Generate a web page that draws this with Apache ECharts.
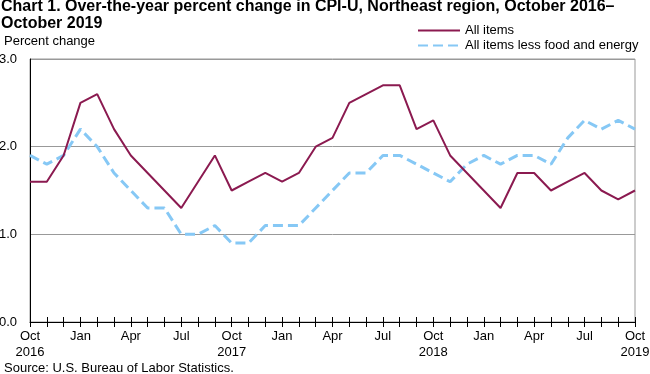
<!DOCTYPE html>
<html><head><meta charset="utf-8">
<script src="https://cdn.jsdelivr.net/npm/echarts@6/dist/echarts.min.js"></script>
<style>html,body{margin:0;padding:0;background:#fff}#c{width:650px;height:374px}</style>
</head><body><div id="c"></div>
<script>
const months = ['Oct','Nov','Dec','Jan','Feb','Mar','Apr','May','Jun','Jul','Aug','Sep'];
const categories = [];
for (let i = 0; i < 37; i++) {
  const m = months[i % 12];
  const y = 2016 + Math.floor((i + 9) / 12);
  categories.push(m + ' ' + y);
}
const allItems = [1.6,1.6,1.9,2.5,2.6,2.2,1.9,1.7,1.5,1.3,1.6,1.9,1.5,1.6,1.7,1.6,1.7,2.0,2.1,2.5,2.6,2.7,2.7,2.2,2.3,1.9,1.7,1.5,1.3,1.7,1.7,1.5,1.6,1.7,1.5,1.4,1.5];
const core = [1.9,1.8,1.9,2.2,2.0,1.7,1.5,1.3,1.3,1.0,1.0,1.1,0.9,0.9,1.1,1.1,1.1,1.3,1.5,1.7,1.7,1.9,1.9,1.8,1.7,1.6,1.8,1.9,1.8,1.9,1.9,1.8,2.1,2.3,2.2,2.3,2.2];
const yTicks = [0, 1, 2, 3];
const FONT = '"Liberation Sans", Arial, sans-serif';

const chart = echarts.init(document.getElementById('c'), null, {renderer: 'canvas'});
chart.setOption({
  animation: false,
  textStyle: {fontFamily: FONT},
  title: [
    {text: 'Chart 1. Over-the-year percent change in CPI-U, Northeast region, October 2016–\nOctober 2019',
     left: 1, top: -2, padding: 0, textStyle: {fontFamily: FONT, fontSize: 16, fontWeight: 'bold', color: '#000', lineHeight: 17}},
    {text: 'Percent change', left: 4, top: 35, padding: 0, textStyle: {fontFamily: FONT, fontSize: 13, fontWeight: 'normal', color: '#000', lineHeight: 13}},
    {text: 'Source: U.S. Bureau of Labor Statistics.', left: 4, top: 362, padding: 0, textStyle: {fontFamily: FONT, fontSize: 13, fontWeight: 'normal', color: '#000', lineHeight: 13}}
  ],
  legend: {
    orient: 'vertical', left: 417, top: 24, padding: 0, itemGap: 2, itemWidth: 42, itemHeight: 13,
    itemStyle: {opacity: 0},
    textStyle: {fontFamily: FONT, fontSize: 13, color: '#000'},
    data: ['All items', 'All items less food and energy']
  },
  grid: {left: 30, right: 15, top: 59, bottom: 52, show: true, borderColor: '#999', borderWidth: 1,
         containLabel: false, outerBoundsMode: 'none'},
  xAxis: [{
    type: 'category', data: categories, boundaryGap: false,
    axisLine: {lineStyle: {color: '#000', width: 1}},
    axisTick: {show: true, interval: 0, length: 5, lineStyle: {color: '#000'}},
    axisLabel: {
      interval: 0, color: '#000', fontSize: 13, fontFamily: FONT, lineHeight: 15.5, margin: 7,
      formatter: function (v, i) {
        if (i % 3 !== 0) return '';
        const p = v.split(' ');
        return p[0] === 'Oct' ? p[0] + '\n' + p[1] : p[0];
      }
    },
    splitLine: {show: false}
  }, {
    type: 'category', data: categories, boundaryGap: false, position: 'bottom',
    axisLine: {show: false},
    axisTick: {show: true, inside: true, interval: 0, length: 5, lineStyle: {color: '#000'}},
    axisLabel: {show: false}, splitLine: {show: false}
  }],
  yAxis: {
    type: 'value', min: yTicks[0], max: yTicks[yTicks.length - 1], interval: 1,
    axisLine: {show: true, lineStyle: {color: '#000'}},
    axisTick: {show: false},
    axisLabel: {color: '#000', fontSize: 13, fontFamily: FONT, margin: 13, formatter: v => v.toFixed(1)},
    splitLine: {show: true, lineStyle: {color: '#999', width: 1}}
  },
  series: [
    {name: 'All items', type: 'line', data: allItems, symbol: 'none', z: 3,
     lineStyle: {color: '#8b1a50', width: 2}, itemStyle: {color: '#8b1a50'}},
    {name: 'All items less food and energy', type: 'line', data: core, symbol: 'none', z: 2,
     lineStyle: {color: '#86c8f5', width: 3, type: [10, 5]}, itemStyle: {color: '#86c8f5'}}
  ]
});
</script></body></html>
